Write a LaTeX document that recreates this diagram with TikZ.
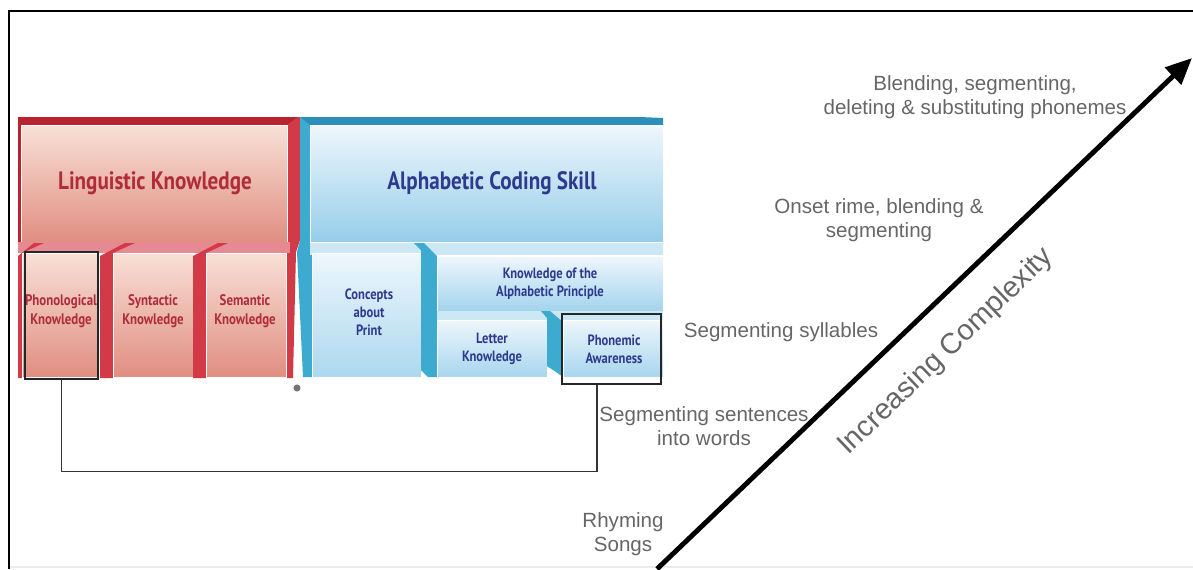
\documentclass[tikz,border=0pt]{standalone}
\usepackage{fontspec}
\setmainfont{Liberation Sans}
\newfontfamily\cond[FakeStretch=0.84]{PT Sans}
\usetikzlibrary{arrows.meta,fit}
\definecolor{rdark}{HTML}{B8232F}
\definecolor{rside}{HTML}{D33A48}
\definecolor{rband}{HTML}{E58A93}
\definecolor{rtop}{HTML}{F8E0D7}
\definecolor{rbot}{HTML}{E08E80}
\definecolor{rtext}{HTML}{B02C3A}
\definecolor{bdark}{HTML}{2B8FB9}
\definecolor{bside}{HTML}{3DABD0}
\definecolor{bband}{HTML}{CBE8F4}
\definecolor{btop}{HTML}{EEF7FC}
\definecolor{bbot}{HTML}{96CDEA}
\definecolor{btext}{HTML}{2E3A8E}
\definecolor{lbl}{HTML}{666666}
\tikzset{
  lbltext/.style={text=lbl, align=center, inner sep=0pt, font=\fontsize{11.7pt}{13.7pt}\selectfont},
  bigred/.style={text=rtext, inner sep=0pt, font=\cond\bfseries\fontsize{14.3pt}{16pt}\selectfont},
  bigblue/.style={text=btext, inner sep=0pt, font=\cond\bfseries\fontsize{14.3pt}{16pt}\selectfont},
  smallred/.style={text=rtext, align=center, inner sep=0pt, font=\cond\bfseries\fontsize{8.7pt}{10.8pt}\selectfont},
  smallblue/.style={text=btext, align=center, inner sep=0pt, font=\cond\bfseries\fontsize{8.5pt}{10.2pt}\selectfont},
  hilite/.style={draw=black!85, line width=0.9pt, inner sep=0pt},
  conn/.style={draw=black!80, line width=0.7pt},
  frameline/.style={draw=black, line width=1.3pt},
  redface/.style={top color=rtop, bottom color=rbot, draw=white, line width=0.5pt},
  blueface/.style={top color=btop, bottom color=bbot, draw=white, line width=0.5pt},
}
\begin{document}
\begin{tikzpicture}[x=0.02cm,y=-0.02cm]
\useasboundingbox (0,0) rectangle (1193,569);
\fill[white] (0,0) rectangle (1193,569);
% frame
\draw[black!8, line width=0.6pt] (9,567) -- (1193,567);
\draw[frameline] (9,569) -- (9,11) -- (1193,11);

% ---------- red block ----------
\fill[rdark] (18,117) rectangle (298,125);
\fill[rdark] (18,117) rectangle (21,243);
\fill[rside] (287,125) -- (298,117) -- (300,117) -- (300,240) -- (296,252) -- (293,378) -- (287,378) -- cycle;
\shade[redface] (21,125) rectangle (287,242);
\fill[rband] (18,242) rectangle (290,253);
% lower red boxes
\fill[rside] (18,378) -- (18,256) -- (34,243) -- (44,243) -- (22,253) -- (22,378) -- cycle;
\shade[redface] (22,253) rectangle (99,377);
\fill[rside] (100,378) -- (100,256) -- (125,243) -- (135,243) -- (113,253) -- (113,378) -- cycle;
\shade[redface] (113,253) rectangle (193,377);
\fill[rside] (193,378) -- (193,256) -- (218,243) -- (228,243) -- (206,253) -- (206,378) -- cycle;
\shade[redface] (206,253) rectangle (286,377);

% ---------- blue block ----------
\fill[bdark] (300,117) -- (640,117) -- (663,118) -- (663,125) -- (300,125) -- cycle;
\fill[bside] (300,117) -- (310,125) -- (310,242) -- (312,253) -- (312,377) -- (303,377) -- (297,252) -- (300,240) -- cycle;
\shade[blueface] (310,125) rectangle (663,242);
\fill[bband] (310,243) rectangle (663,255);
\shade[blueface, bottom color=bbot!75!btop] (312,253) rectangle (421,377);
\fill[bside] (414,243) -- (424,243) -- (437,256) -- (437,377) -- (428,377) -- (421,370) -- (421,250) -- cycle;
\shade[blueface, bottom color=bbot!85!btop] (437,256) rectangle (663,311);
\fill[bband] (437,311) rectangle (663,320);
\shade[blueface, bottom color=bbot!80!btop] (437,320) rectangle (547,377);
\fill[bside] (541,311) -- (550,311) -- (563,322) -- (563,377) -- (556,372) -- (547,366) -- (547,318) -- cycle;
\shade[blueface, bottom color=bbot!80!btop] (563,320) rectangle (663,377);

% labels in blocks
\node[bigred] (ling) at (155,183) {Linguistic Knowledge};
\node[bigblue] (alpha) at (492,183) {Alphabetic Coding Skill};
\node[smallred] (phon) at (61,311) {Phonological\\Knowledge};
\node[smallred] (synt) at (153,311) {Syntactic\\Knowledge};
\node[smallred] (sema) at (245,311) {Semantic\\Knowledge};
\node[smallblue] (conc) at (369,312) {Concepts\\about\\Print};
\node[smallblue] (kap) at (550,284) {Knowledge of the\\Alphabetic Principle};
\node[smallblue] (lett) at (492,349) {Letter\\Knowledge};
\node[smallblue] (phaw) at (614,349) {Phonemic\\Awareness};

% highlight rectangles and connector
\node[hilite, fit={(25,252) (98,379)}] (phonrect) {};
\node[hilite, fit={(562,314) (661,384)}] (pharect) {};
\draw[conn] (phonrect.south) -- ++(0,92) -| ([xshift=-0.29cm]pharect.south);
\fill[black!55] (297,388) circle (2pt);

% complexity arrow
\coordinate (astart) at (657,569);
\coordinate (aend) at (1192,58);
\draw[line width=2.8pt, -{Triangle[length=15pt,width=13pt]}] (astart) -- (aend);

% progression labels
\node[lbltext] (l5) at (975,97) {Blending, segmenting,\\deleting \& substituting phonemes};
\node[lbltext] (l4) at (879,220) {Onset rime, blending \&\\segmenting};
\node[lbltext] (l3) at (781,332) {Segmenting syllables};
\node[lbltext] (l2) at (704,426) {Segmenting sentences\\into words};
\node[lbltext] (l1) at (623,534) {Rhyming\\Songs};
\node[lbltext, rotate=43.7, font=\fontsize{16.5pt}{19pt}\selectfont] (ic) at (946,352) {Increasing Complexity};
\end{tikzpicture}
\end{document}
